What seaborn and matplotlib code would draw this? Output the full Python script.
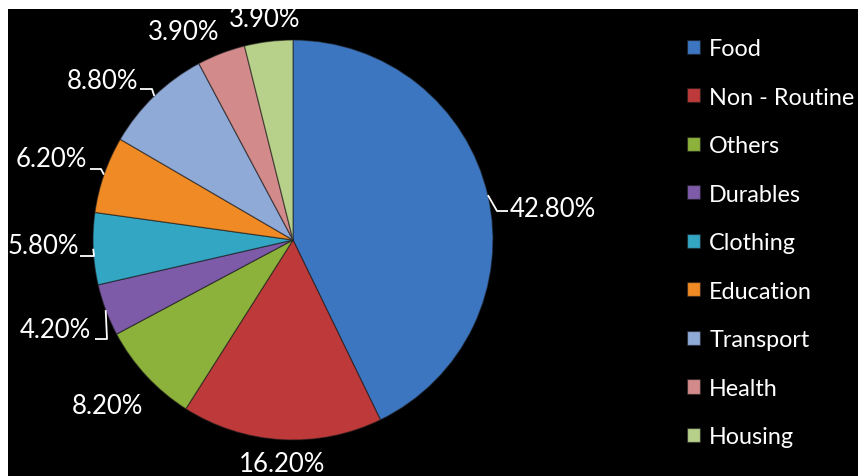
import numpy as np
import matplotlib
matplotlib.use("Agg")
import matplotlib.pyplot as plt
from matplotlib.patches import Rectangle
import seaborn as sns

# Household expenditure shares (%)
categories = ["Food", "Non - Routine", "Others", "Durables", "Clothing",
              "Education", "Transport", "Health", "Housing"]
shares = [42.8, 16.2, 8.2, 4.2, 5.8, 6.2, 8.8, 3.9, 3.9]
slice_colors = ["#3D76C0", "#BE3A3A", "#8DB23C", "#7D5BA8", "#33A6C3",
                "#EF8A24", "#90AAD8", "#D28B8A", "#B7D08A"]

sns.set_theme(style="dark", rc={"axes.facecolor": "black",
                                "figure.facecolor": "black"})
plt.rcParams["font.family"] = ["Lato", "DejaVu Sans"]

W, H = 858, 477
fig = plt.figure(figsize=(W / 100, H / 100), dpi=100)
fig.patch.set_facecolor("black")

# thin white frame on the top and left edges
fig.add_artist(Rectangle((0, 1 - 10 / H), 1, 10 / H, transform=fig.transFigure,
                         facecolor="white", edgecolor="none", zorder=10))
fig.add_artist(Rectangle((0, 0), 8 / W, 1, transform=fig.transFigure,
                         facecolor="white", edgecolor="none", zorder=10))

# axes spanning the figure, 1 data unit = pie radius = 200 px
cx, cy, R = 293, 241, 200
ax = fig.add_axes([0, 0, 1, 1])
ax.set_facecolor("black")
palette = sns.color_palette(slice_colors)

wedges, _ = ax.pie(shares, colors=palette, startangle=90, counterclock=False,
                   radius=1.0,
                   wedgeprops=dict(edgecolor=(0.1, 0.1, 0.1, 0.55),
                                   linewidth=0.9))
ax.set_xlim(-cx / R, (W - cx) / R)
ax.set_ylim((cy - H) / R, cy / R)
ax.set_aspect("auto")
ax.axis("off")


def px(x, y):
    return (x - cx) / R, (cy - y) / R


# label layout: (text x, text y, ha, leader elbow points in px or None)
label_layout = [
    (510, 210, "left", [(508, 212), (497, 212)]),
    (282, 464, "center", None),
    (107, 406, "center", None),
    (91, 330, "right", [(95, 340), (107, 340)]),
    (79, 247, "right", [(80, 257), (94, 257)]),
    (87, 160, "right", [(90, 170), (101, 170)]),
    (138, 82, "right", [(140, 90), (152, 90)]),
    (184, 33, "center", None),
    (265, 20, "center", None),
]

for w, val, (tx, ty, ha, elbow) in zip(wedges, shares, label_layout):
    mid = np.deg2rad((w.theta1 + w.theta2) / 2)
    edge = (np.cos(mid), np.sin(mid))
    ax.text(*px(tx, ty), f"{val:.2f}%", color="white", fontsize=18.5,
            ha=ha, va="center", clip_on=False)
    if elbow:
        pts = [px(*p) for p in elbow] + [edge]
        xs, ys = zip(*pts)
        ax.plot(xs, ys, color="white", lw=1.3, solid_capstyle="butt")

leg = fig.legend(wedges, categories, loc="upper left",
                 bbox_to_anchor=(687 / W, 1 - 39 / H),
                 bbox_transform=fig.transFigure, frameon=False,
                 fontsize=16.8, handlelength=0.55, handleheight=0.55,
                 handletextpad=0.4, labelspacing=1.18, borderaxespad=0,
                 borderpad=0)
for t in leg.get_texts():
    t.set_color("white")

fig.savefig("out.png", dpi=100, facecolor="black")
